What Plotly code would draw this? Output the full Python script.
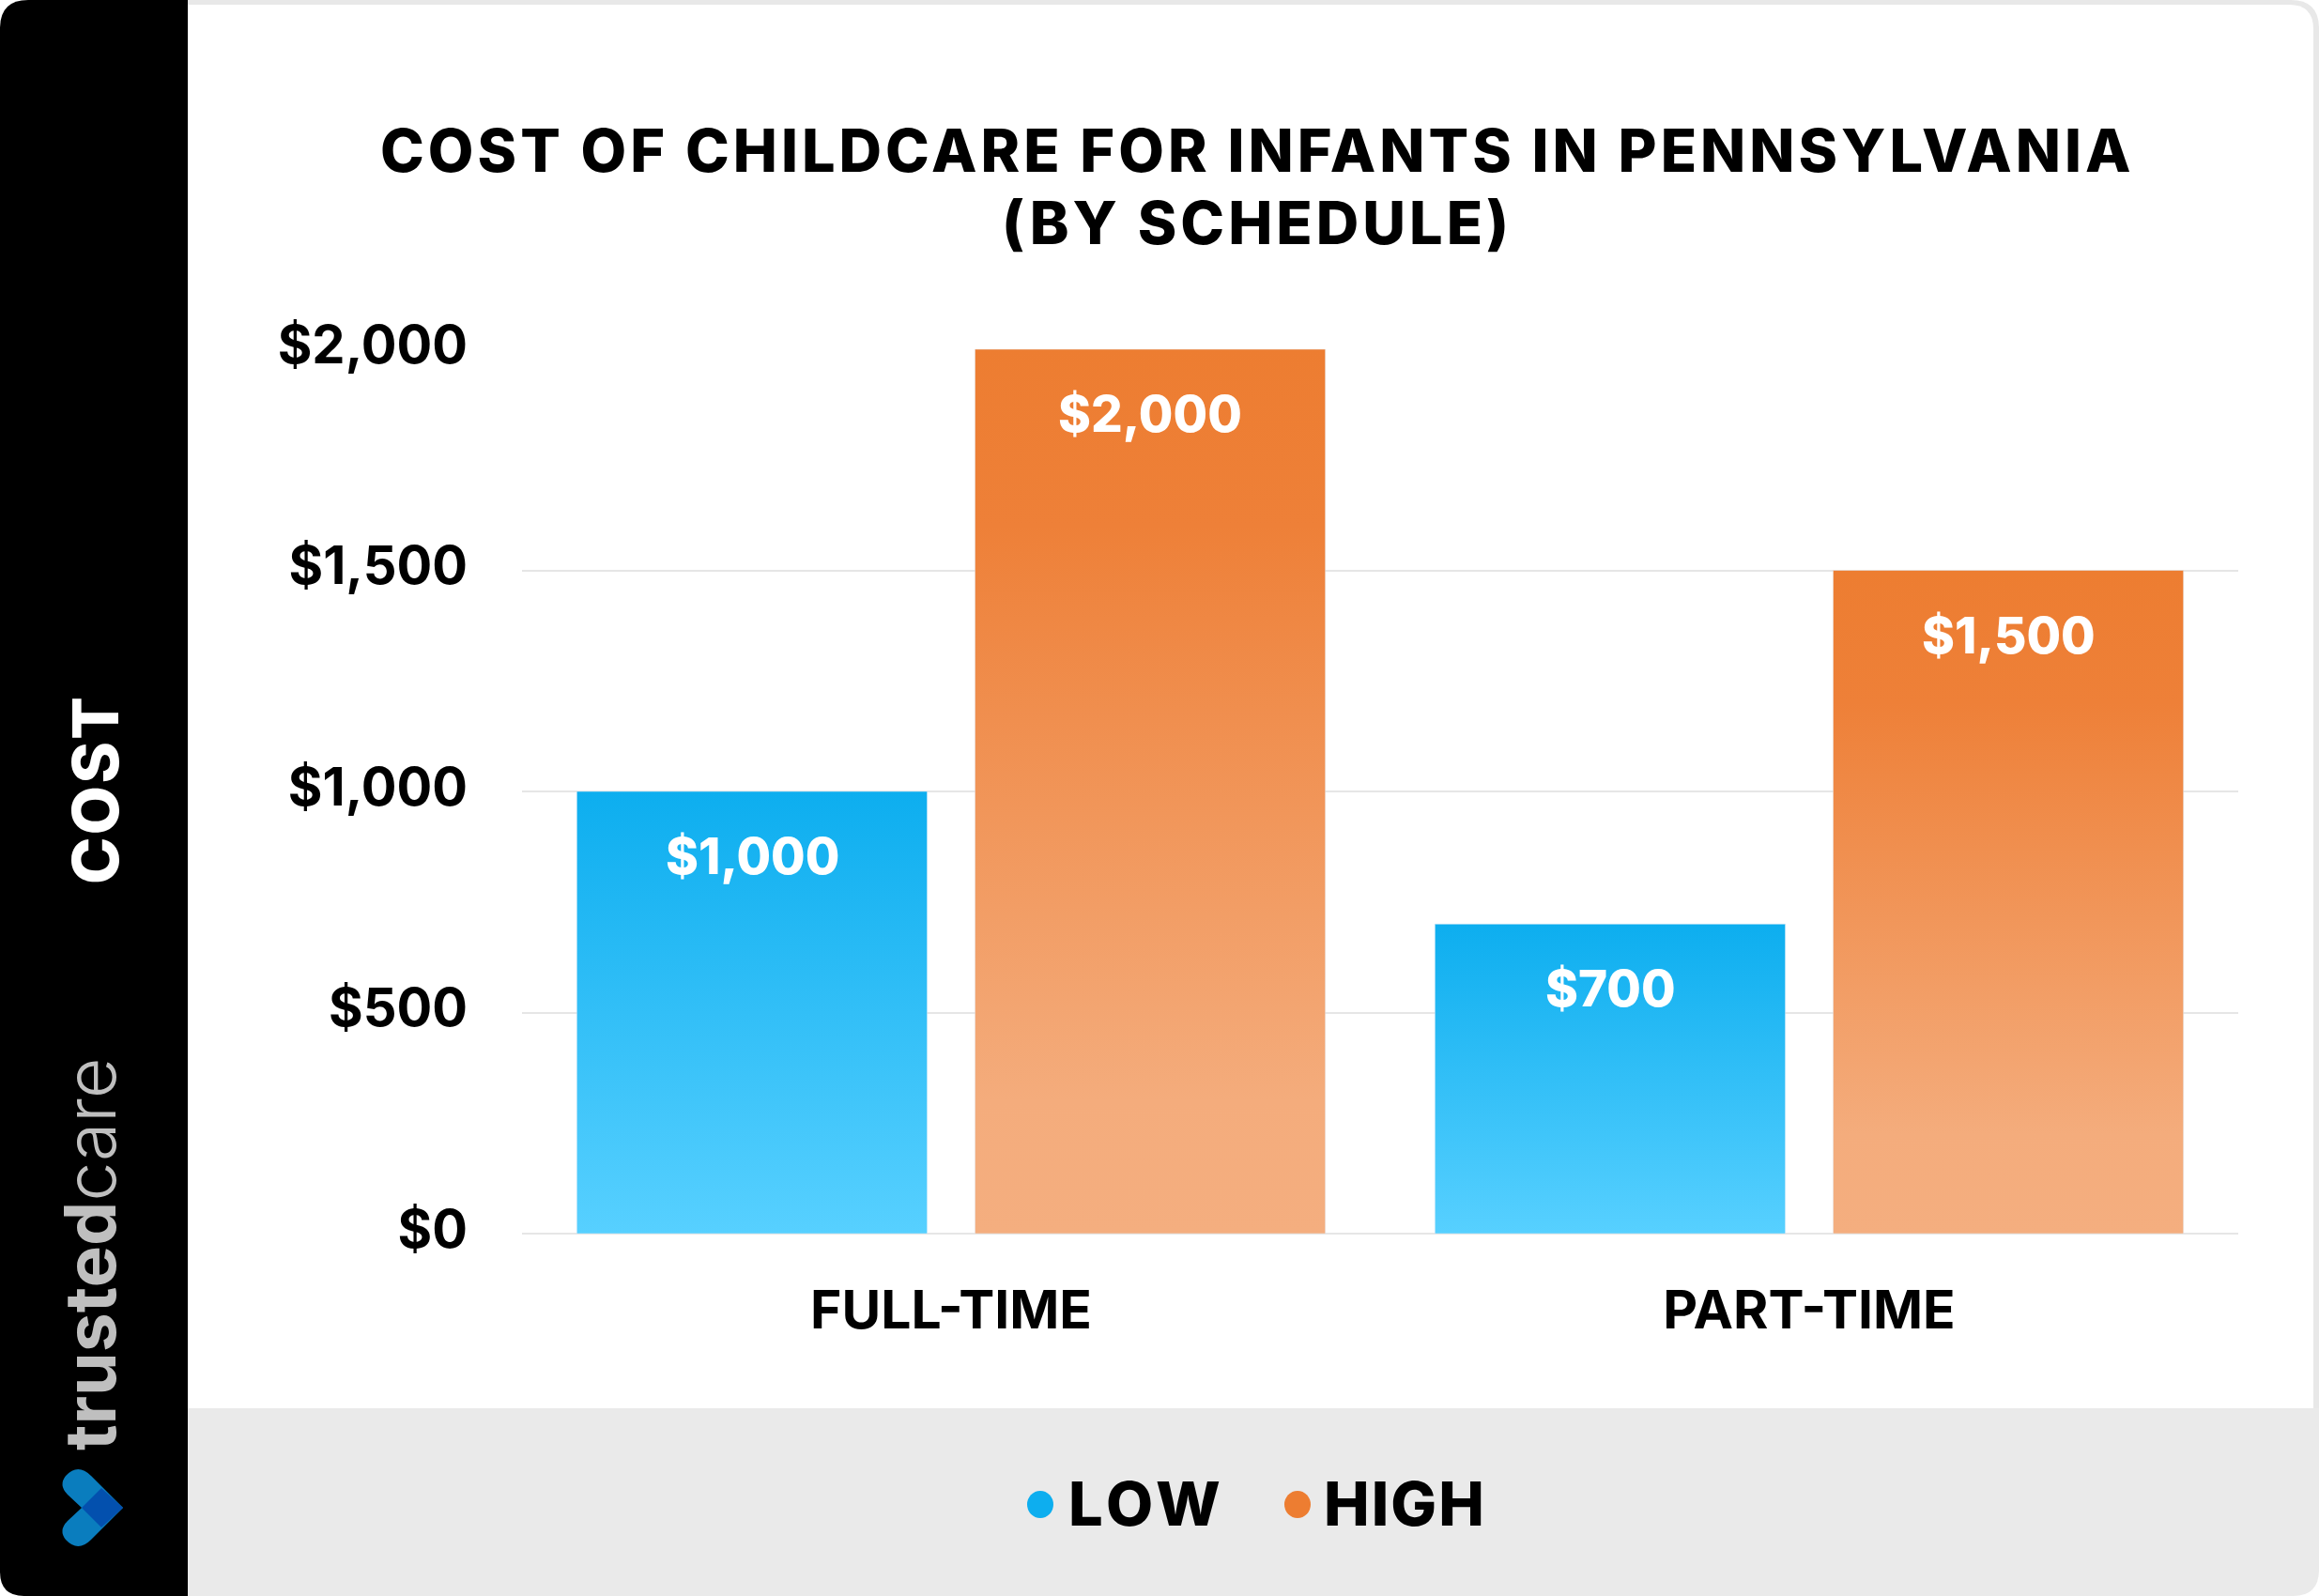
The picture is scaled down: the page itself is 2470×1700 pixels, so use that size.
import plotly.graph_objects as go

# values
categories = ["FULL-TIME", "PART-TIME"]
low_values = [1000, 700]
high_values = [2000, 1500]
y_ticks = [0, 500, 1000, 1500, 2000]
y_tick_labels = ["$0", "$500", "$1,000", "$1,500", "$2,000"]

W = 2470
H = 1700
FONT = "Inter"

# plot area in page pixels
LEFT, RIGHT, TOP, BOTTOM = 556, 2384, 372, 1314


def xp(x):
    return (x - LEFT) / (RIGHT - LEFT)


def yp(y):
    return (BOTTOM - y) / (BOTTOM - TOP)


def page_path(cmds):
    # path given in page pixels -> paper coords
    out = []
    for c in cmds:
        if isinstance(c, str):
            out.append(c)
        else:
            out.append(f"{xp(c[0]):.5f},{yp(c[1]):.5f}")
    return " ".join(out)


def path_shape(cmds, color, layer="below"):
    return dict(type="path", xref="paper", yref="paper", path=page_path(cmds),
                fillcolor=color, line_width=0, layer=layer)


def spaced(text, px):
    return f'<span style="letter-spacing:{px}px">{text}</span>'


fig = go.Figure()
fig.add_trace(go.Bar(name="LOW", x=categories, y=low_values, marker_color="#0DAEEF", showlegend=False))
fig.add_trace(go.Bar(name="HIGH", x=categories, y=high_values, marker_color="#ED7D31", showlegend=False))

# frame, side panel and footer band
shapes = [
    # light border with rounded top right corner
    path_shape(["M", (190, 0), "L", (2440, 0), "Q", (2470, 0), (2470, 30), "L", (2470, 1510), "L", (190, 1510), "Z"], "#E8E8E8"),
    path_shape(["M", (190, 5), "L", (2438, 5), "Q", (2464, 5), (2464, 31), "L", (2464, 1510), "L", (190, 1510), "Z"], "#FFFFFF"),
    path_shape(["M", (190, 1500), "L", (2470, 1500), "L", (2470, 1672), "Q", (2470, 1700), (2442, 1700), "L", (190, 1700), "Z"], "#EAEAEA"),
    path_shape(["M", (30, 0), "L", (200, 0), "L", (200, 1700), "L", (26, 1700), "Q", (0, 1700), (0, 1674), "L", (0, 30), "Q", (0, 0), (30, 0), "Z"], "#000000"),
    # logo
    path_shape(["M", (87, 1606), "L", (72, 1592), "Q", (62, 1582), (70, 1572), "Q", (83, 1558), (97, 1572), "L", (131, 1606), "Z"], "#0A7DBE"),
    path_shape(["M", (87, 1606), "L", (72, 1620), "Q", (62, 1630), (70, 1640), "Q", (83, 1654), (97, 1640), "L", (131, 1606), "Z"], "#0A7DBE"),
    path_shape(["M", (87, 1606), "L", (108, 1585), "L", (131, 1606), "L", (108, 1627), "Z"], "#0350AE"),
    # legend dots
    dict(type="circle", xref="paper", yref="paper", x0=xp(1094), x1=xp(1122), y0=yp(1588), y1=yp(1617),
         fillcolor="#0DAEEF", line_width=0),
    dict(type="circle", xref="paper", yref="paper", x0=xp(1368), x1=xp(1396), y0=yp(1588), y1=yp(1617),
         fillcolor="#ED7D31", line_width=0),
]

annotations = []


def page_text(text, x, y, size, color="#000000", angle=0, weight=700, xanchor="center"):
    annotations.append(dict(text=text, xref="paper", yref="paper", x=xp(x), y=yp(y), xanchor=xanchor, yanchor="middle",
                            showarrow=False, textangle=angle,
                            font=dict(family=FONT, size=size, color=color, weight=weight)))


page_text(spaced("COST OF CHILDCARE FOR INFANTS IN PENNSYLVANIA", 4), 1339, 160, 63, weight=800)
page_text(spaced("(BY SCHEDULE)", 4), 1339, 237, 63, weight=800)
page_text(spaced("COST", 2), 101, 841, 68, color="#FFFFFF", angle=-90, weight=800)
page_text("<b>trusted</b>care", 95, 1336, 75, color="#BFBFBF", angle=-90, weight=300)
page_text(spaced("LOW", 5), 1136, 1601, 65, weight=800, xanchor="left")
page_text(spaced("HIGH", 2), 1408, 1601, 65, weight=800, xanchor="left")

# value labels sit a fixed distance under the top of each bar
for i in range(len(categories)):
    for vals, shift in ((low_values, -212), (high_values, 212)):
        annotations.append(dict(text=f"${vals[i]:,}", x=i, y=vals[i], xref="x", yref="y", xshift=shift, yshift=-69,
                                showarrow=False, font=dict(family=FONT, size=53, color="#FFFFFF", weight=800)))

fig.update_layout(
    width=W, height=H, autosize=False,
    margin=dict(l=LEFT, r=W - RIGHT, t=TOP, b=H - BOTTOM),
    paper_bgcolor="#FFFFFF", plot_bgcolor="rgba(0,0,0,0)",
    barmode="group", bargap=0.072, bargroupgap=0.12,
    shapes=shapes, annotations=annotations,
)
fig.update_xaxes(showline=False, ticks="", showgrid=False, zeroline=False,
                 tickfont=dict(family=FONT, size=57, color="#000000", weight=700), ticklabelstandoff=43)
fig.update_yaxes(range=[0, 2000], tickvals=y_ticks, ticktext=y_tick_labels, showline=False, ticks="",
                 gridcolor="#E6E6E6", gridwidth=2, zeroline=True, zerolinecolor="#E6E6E6", zerolinewidth=2,
                 tickfont=dict(family=FONT, size=56, color="#000000", weight=700), ticklabelstandoff=57,
                 ticklabelshift=-5)

# plotly bars have no gradient fill, so swap it in on the svg after drawing
post = """
document.body.style.margin = '0';
var gd = document.querySelector('.plotly-graph-div');
var svg = gd.querySelector('svg.main-svg');
var ns = 'http://www.w3.org/2000/svg';
var defs = svg.querySelector('defs');
function grad(id, stops) {
  var g = document.createElementNS(ns, 'linearGradient');
  g.setAttribute('id', id); g.setAttribute('x1', '0'); g.setAttribute('x2', '0'); g.setAttribute('y1', '0'); g.setAttribute('y2', '1');
  stops.forEach(function (s) {
    var e = document.createElementNS(ns, 'stop');
    e.setAttribute('offset', s[0]); e.setAttribute('stop-color', s[1]);
    g.appendChild(e);
  });
  defs.appendChild(g);
}
grad('lowfill', [[0, '#0DAEEF'], [1, '#57D0FF']]);
grad('highfill', [[0, '#ED7D31'], [0.2, '#EE8038'], [0.85, '#F4AC7C'], [1, '#F4AE7F']]);
gd.querySelectorAll('.barlayer .trace').forEach(function (t, i) {
  t.querySelectorAll('path').forEach(function (p) {
    p.style.fill = 'url(#' + (i === 0 ? 'lowfill' : 'highfill') + ')';
  });
});
"""

fig.write_html("out.html", post_script=post, config={"displayModeBar": False})
